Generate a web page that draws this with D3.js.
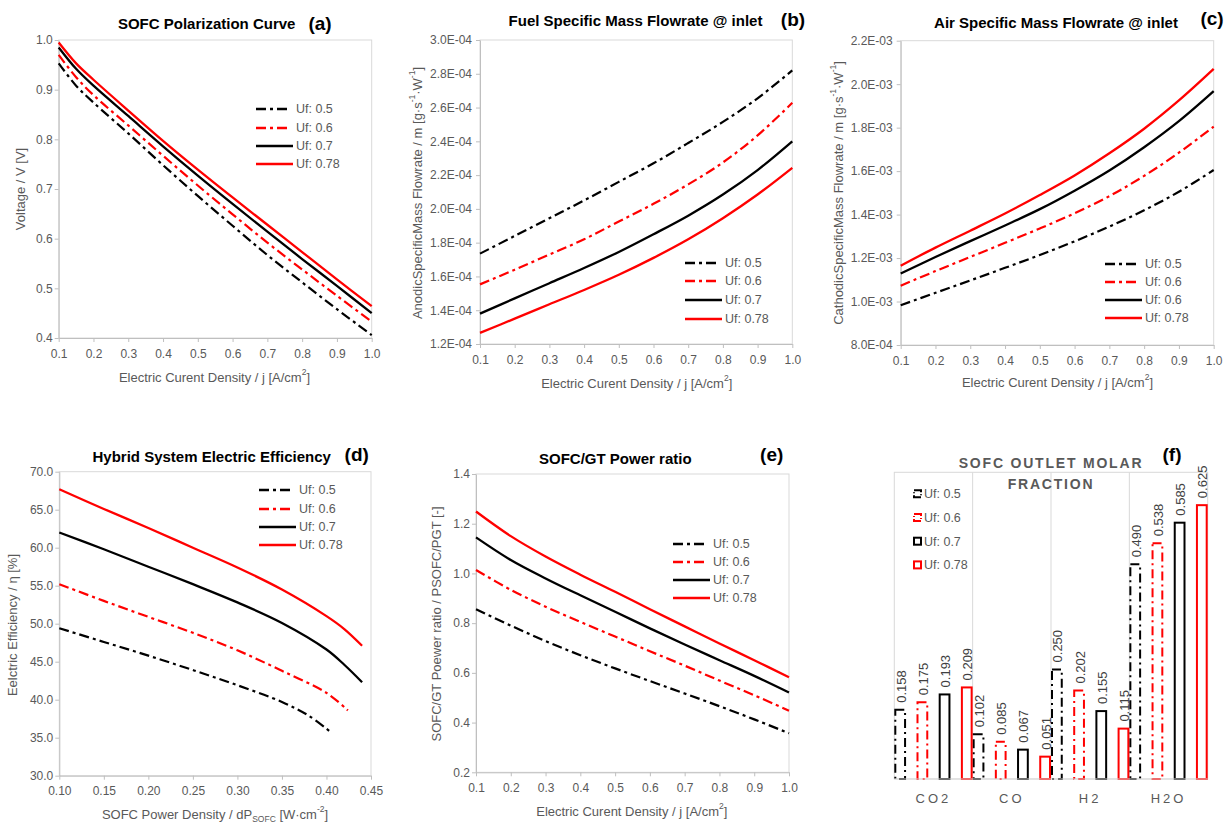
<!DOCTYPE html>
<html>
<head>
<meta charset="utf-8">
<script src="https://cdn.jsdelivr.net/npm/d3@7"></script>
<style>
  body { margin: 0; background: #fff; }
  svg { font-family: "Liberation Sans", Arial, sans-serif; }
  .tick text { fill: #595959; font-size: 12px; }
  .tick line, .domain { stroke: #bfbfbf; }
  .axis_title { fill: #595959; font-size: 13px; }
  .panel_title { font-weight: bold; font-size: 15px; fill: #000; }
  .panel_tag { font-weight: bold; font-size: 19px; fill: #000; }
  .legend_text { fill: #595959; font-size: 12.5px; }
</style>
</head>
<body>
<script>
// ---- data ----
const ufLabels = ['Uf: 0.5', 'Uf: 0.6', 'Uf: 0.7', 'Uf: 0.78'];
const ufLabelsC = ['Uf: 0.5', 'Uf: 0.6', 'Uf: 0.6', 'Uf: 0.78'];

// (a) polarization curve
const jPol = [0.1, 0.15, 0.2, 0.3, 0.4, 0.5, 0.6, 0.7, 0.8, 0.9, 1.0];
const voltUf05 = [0.953, 0.908, 0.874, 0.812, 0.748, 0.686, 0.626, 0.567, 0.512, 0.458, 0.406];
const voltUf06 = [0.970, 0.925, 0.889, 0.828, 0.767, 0.707, 0.649, 0.592, 0.538, 0.485, 0.433];
const voltUf07 = [0.985, 0.942, 0.908, 0.847, 0.786, 0.727, 0.670, 0.614, 0.559, 0.505, 0.450];
const voltUf078 = [0.995, 0.953, 0.920, 0.858, 0.797, 0.739, 0.683, 0.628, 0.573, 0.518, 0.464];

// (b), (c), (e) current density
const jVals = [0.1, 0.2, 0.3, 0.4, 0.5, 0.6, 0.7, 0.8, 0.9, 1.0];
const fuelUf05 = [1.735e-4, 1.84e-4, 1.945e-4, 2.05e-4, 2.16e-4, 2.27e-4, 2.39e-4, 2.515e-4, 2.655e-4, 2.82e-4];
const fuelUf06 = [1.553e-4, 1.64e-4, 1.73e-4, 1.82e-4, 1.925e-4, 2.03e-4, 2.145e-4, 2.275e-4, 2.435e-4, 2.628e-4];
const fuelUf07 = [1.38e-4, 1.47e-4, 1.56e-4, 1.65e-4, 1.745e-4, 1.85e-4, 1.96e-4, 2.085e-4, 2.23e-4, 2.40e-4];
const fuelUf078 = [1.266e-4, 1.35e-4, 1.435e-4, 1.52e-4, 1.61e-4, 1.71e-4, 1.82e-4, 1.945e-4, 2.085e-4, 2.243e-4];

const airUf05 = [0.983e-3, 1.04e-3, 1.097e-3, 1.155e-3, 1.214e-3, 1.277e-3, 1.345e-3, 1.42e-3, 1.505e-3, 1.605e-3];
const airUf06 = [1.073e-3, 1.14e-3, 1.205e-3, 1.27e-3, 1.336e-3, 1.406e-3, 1.485e-3, 1.578e-3, 1.685e-3, 1.805e-3];
const airUf07 = [1.129e-3, 1.205e-3, 1.278e-3, 1.35e-3, 1.425e-3, 1.51e-3, 1.603e-3, 1.71e-3, 1.83e-3, 1.968e-3];
const airUf078 = [1.165e-3, 1.248e-3, 1.326e-3, 1.405e-3, 1.49e-3, 1.58e-3, 1.682e-3, 1.795e-3, 1.925e-3, 2.07e-3];

const ratioUf05 = [0.856, 0.790, 0.728, 0.671, 0.618, 0.567, 0.517, 0.466, 0.413, 0.357];
const ratioUf06 = [1.014, 0.934, 0.866, 0.805, 0.746, 0.687, 0.629, 0.569, 0.510, 0.448];
const ratioUf07 = [1.145, 1.054, 0.980, 0.912, 0.846, 0.779, 0.714, 0.651, 0.588, 0.521];
const ratioUf078 = [1.249, 1.150, 1.068, 0.995, 0.926, 0.856, 0.787, 0.718, 0.651, 0.582];

// (d) efficiency vs SOFC power density (each series ends at its own power)
const powUf05 = [0.10, 0.15, 0.20, 0.25, 0.30, 0.35, 0.38, 0.403];
const effUf05 = [49.4, 47.6, 45.8, 43.9, 41.9, 39.7, 37.9, 35.9];
const powUf06 = [0.10, 0.15, 0.20, 0.25, 0.30, 0.35, 0.40, 0.424];
const effUf06 = [55.2, 53.0, 50.9, 48.8, 46.5, 43.8, 40.9, 38.6];
const powUf07 = [0.10, 0.15, 0.20, 0.25, 0.30, 0.35, 0.40, 0.42, 0.44];
const effUf07 = [62.0, 59.8, 57.5, 55.2, 52.8, 50.1, 46.6, 44.6, 42.3];
const powUf078 = [0.10, 0.15, 0.20, 0.25, 0.30, 0.35, 0.40, 0.42, 0.44];
const effUf078 = [67.7, 65.1, 62.6, 60.0, 57.4, 54.5, 51.0, 49.3, 47.1];

// (f) outlet molar fraction
const molarCats = ['CO2', 'CO', 'H2', 'H2O'];
const molarUf05 = [0.158, 0.102, 0.250, 0.490];
const molarUf06 = [0.175, 0.085, 0.202, 0.538];
const molarUf07 = [0.193, 0.067, 0.155, 0.585];
const molarUf078 = [0.209, 0.051, 0.115, 0.625];

// tick values
const jTicks = [0.1, 0.2, 0.3, 0.4, 0.5, 0.6, 0.7, 0.8, 0.9, 1.0];
const voltTicks = [0.4, 0.5, 0.6, 0.7, 0.8, 0.9, 1.0];
const fuelTicks = [1.2e-4, 1.4e-4, 1.6e-4, 1.8e-4, 2.0e-4, 2.2e-4, 2.4e-4, 2.6e-4, 2.8e-4, 3.0e-4];
const airTicks = [8.0e-4, 1.0e-3, 1.2e-3, 1.4e-3, 1.6e-3, 1.8e-3, 2.0e-3, 2.2e-3];
const powTicks = [0.10, 0.15, 0.20, 0.25, 0.30, 0.35, 0.40, 0.45];
const effTicks = [30, 35, 40, 45, 50, 55, 60, 65, 70];
const ratioTicks = [0.2, 0.4, 0.6, 0.8, 1.0, 1.2, 1.4];

// ---- styles ----
const ufStyles = [
	{color: '#000', dash: '10,4,3,4'},
	{color: '#ff0000', dash: '10,4,3,4'},
	{color: '#000', dash: null},
	{color: '#ff0000', dash: null}
];

function sci(d) {
	const [m, e] = d.toExponential(1).split('e');
	const n = +e;
	return m + 'E' + (n < 0 ? '-' : '+') + String(Math.abs(n)).padStart(2, '0');
}

const svg = d3.select('body').append('svg')
	.attr('width', 1226)
	.attr('height', 823);

// text with sub/superscript parts: [[str, 'sup'|'sub'|null], ...]
function richText(sel, parts) {
	parts.forEach(([s, mode]) => {
		const t = sel.append('tspan').text(s);
		if (mode === 'sup') t.attr('baseline-shift', 'super').attr('font-size', '8.5px');
		if (mode === 'sub') t.attr('baseline-shift', 'sub').attr('font-size', '8.5px');
	});
}

function linePanel(cfg) {
	const g = svg.append('g').attr('class', 'panel');
	const x = d3.scaleLinear().domain(cfg.xDom).range([cfg.x0, cfg.x1]);
	const y = d3.scaleLinear().domain(cfg.yDom).range([cfg.y0, cfg.y1]);

	g.append('rect')
		.attr('x', cfg.x0).attr('y', cfg.y1)
		.attr('width', cfg.x1 - cfg.x0).attr('height', cfg.y0 - cfg.y1)
		.style('fill', 'none').style('stroke', '#d9d9d9');

	g.append('g')
		.attr('transform', 'translate(0,' + cfg.y0 + ')')
		.call(d3.axisBottom(x).tickValues(cfg.xTicks).tickFormat(cfg.xFmt).tickSize(4).tickSizeOuter(0).tickPadding(7));

	g.append('g')
		.attr('transform', 'translate(' + cfg.x0 + ',0)')
		.call(d3.axisLeft(y).tickValues(cfg.yTicks).tickFormat(cfg.yFmt).tickSize(4).tickSizeOuter(0).tickPadding(cfg.yPad || 2));

	const line = d3.line()
		.x(d => x(d[0]))
		.y(d => y(d[1]))
		.curve(d3.curveCatmullRom.alpha(0.5));

	cfg.series.forEach((s, i) => {
		const pts = s.x.map((v, k) => [v, s.y[k]]);
		g.append('path')
			.datum(pts)
			.attr('class', 'series_line')
			.attr('d', line)
			.style('fill', 'none')
			.style('stroke', ufStyles[i].color)
			.style('stroke-width', ufStyles[i].dash ? 2.2 : 2.3)
			.style('stroke-dasharray', ufStyles[i].dash);
	});

	// legend
	const gLeg = g.append('g').attr('class', 'legend');
	cfg.legendLabels.forEach((lab, i) => {
		const ly = cfg.legend.y[i];
		gLeg.append('line')
			.attr('x1', cfg.legend.x)
			.attr('x2', cfg.legend.x + (ufStyles[i].dash ? 33 : 37))
			.attr('y1', ly).attr('y2', ly)
			.style('stroke', ufStyles[i].color)
			.style('stroke-width', 2.3)
			.style('stroke-dasharray', ufStyles[i].dash);
		gLeg.append('text')
			.attr('class', 'legend_text')
			.attr('x', cfg.legend.x + 40)
			.attr('y', ly)
			.attr('dominant-baseline', 'central')
			.text(lab);
	});

	g.append('text')
		.attr('class', 'panel_title')
		.attr('x', cfg.title.x).attr('y', cfg.title.y)
		.attr('text-anchor', 'middle')
		.text(cfg.title.text);
	g.append('text')
		.attr('class', 'panel_tag')
		.attr('x', cfg.tag.x).attr('y', cfg.tag.y)
		.attr('text-anchor', 'middle')
		.text(cfg.tag.text);

	const xt = g.append('text')
		.attr('class', 'axis_title')
		.attr('x', cfg.xLabel.x).attr('y', cfg.xLabel.y)
		.attr('text-anchor', 'middle')
		.attr('dominant-baseline', 'central');
	richText(xt, cfg.xLabel.parts);

	const yt = g.append('text')
		.attr('class', 'axis_title')
		.attr('transform', 'translate(' + cfg.yLabel.x + ',' + cfg.yLabel.y + ') rotate(-90)')
		.attr('text-anchor', 'middle')
		.attr('dominant-baseline', 'central');
	richText(yt, cfg.yLabel.parts);
}

const f1 = d3.format('.1f');
const jLabel = [['Electric Curent Density / j [A/cm', null], ['2', 'sup'], [']', null]];
const massUnit = [['[g·s', null], ['-1', 'sup'], ['·W', null], ['-1', 'sup'], [']', null]];

// (a)
linePanel({
	x0: 58.7, x1: 371.7, y0: 338, y1: 40,
	xDom: [0.1, 1.0], yDom: [0.4, 1.0],
	xTicks: jTicks, yTicks: voltTicks, xFmt: f1, yFmt: f1,
	series: [
		{x: jPol, y: voltUf05}, {x: jPol, y: voltUf06},
		{x: jPol, y: voltUf07}, {x: jPol, y: voltUf078}
	],
	legendLabels: ufLabels,
	legend: {x: 256, y: [109, 128, 146, 164]},
	title: {text: 'SOFC Polarization Curve', x: 206.7, y: 29},
	tag: {text: '(a)', x: 320, y: 30},
	xLabel: {x: 214.5, y: 377, parts: jLabel},
	yLabel: {x: 20, y: 189, parts: [['Voltage / V [V]', null]]}
});

// (b)
linePanel({
	x0: 480, x1: 792.3, y0: 344, y1: 40,
	xDom: [0.1, 1.0], yDom: [1.2e-4, 3.0e-4],
	xTicks: jTicks, yTicks: fuelTicks, xFmt: f1, yFmt: sci, yPad: 4,
	series: [
		{x: jVals, y: fuelUf05}, {x: jVals, y: fuelUf06},
		{x: jVals, y: fuelUf07}, {x: jVals, y: fuelUf078}
	],
	legendLabels: ufLabels,
	legend: {x: 685, y: [263, 281, 300, 319]},
	title: {text: 'Fuel Specific Mass Flowrate @ inlet', x: 635.5, y: 26},
	tag: {text: '(b)', x: 793, y: 26},
	xLabel: {x: 636.7, y: 383, parts: jLabel},
	yLabel: {x: 416.7, y: 193, parts: [['AnodicSpecificMass Flowrate / m ', null]].concat(massUnit)}
});

// (c)
linePanel({
	x0: 900.7, x1: 1213.7, y0: 345, y1: 40.7,
	xDom: [0.1, 1.0], yDom: [8.0e-4, 2.2e-3],
	xTicks: jTicks, yTicks: airTicks, xFmt: f1, yFmt: sci, yPad: 4,
	series: [
		{x: jVals, y: airUf05}, {x: jVals, y: airUf06},
		{x: jVals, y: airUf07}, {x: jVals, y: airUf078}
	],
	legendLabels: ufLabelsC,
	legend: {x: 1105, y: [264, 282, 300, 318]},
	title: {text: 'Air Specific Mass Flowrate @ inlet', x: 1056, y: 28},
	tag: {text: '(c)', x: 1212, y: 25},
	xLabel: {x: 1057.5, y: 382, parts: jLabel},
	yLabel: {x: 838, y: 193, parts: [['CathodicSpecificMass Flowrate / m ', null]].concat(massUnit)}
});

// (d)
linePanel({
	x0: 59.3, x1: 371, y0: 775.7, y1: 471.7,
	xDom: [0.10, 0.45], yDom: [30, 70],
	xTicks: powTicks, yTicks: effTicks, xFmt: d3.format('.2f'), yFmt: f1,
	series: [
		{x: powUf05, y: effUf05}, {x: powUf06, y: effUf06},
		{x: powUf07, y: effUf07}, {x: powUf078, y: effUf078}
	],
	legendLabels: ufLabels,
	legend: {x: 259, y: [490, 509, 527, 545]},
	title: {text: 'Hybrid System Electric Efficiency', x: 211.7, y: 462},
	tag: {text: '(d)', x: 356.7, y: 461},
	xLabel: {x: 215, y: 814, parts: [['SOFC Power  Density / dP', null], ['SOFC', 'sub'], [' [W·cm', null], ['-2', 'sup'], [']', null]]},
	yLabel: {x: 11.7, y: 625, parts: [['Eelctric Efficiency / η [%]', null]]}
});

// (e)
linePanel({
	x0: 476, x1: 789, y0: 772.3, y1: 474,
	xDom: [0.1, 1.0], yDom: [0.2, 1.4],
	xTicks: jTicks, yTicks: ratioTicks, xFmt: f1, yFmt: f1,
	series: [
		{x: jVals, y: ratioUf05}, {x: jVals, y: ratioUf06},
		{x: jVals, y: ratioUf07}, {x: jVals, y: ratioUf078}
	],
	legendLabels: ufLabels,
	legend: {x: 673, y: [544, 562, 580, 598]},
	title: {text: 'SOFC/GT Power ratio', x: 615.3, y: 464},
	tag: {text: '(e)', x: 771.7, y: 461},
	xLabel: {x: 631.8, y: 811, parts: jLabel},
	yLabel: {x: 435.7, y: 624, parts: [['SOFC/GT Poewer  ratio / PSOFC/PGT [-]', null]]}
});

// (f) bar chart
(function molarPanel() {
	const x0 = 894.3, x1 = 1207.7, y0 = 779, y1 = 472.3;
	const g = svg.append('g').attr('class', 'panel_f');
	const xCat = d3.scaleBand().domain(molarCats).range([x0, x1]).padding(0);
	const xSub = d3.scaleBand().domain([0, 1, 2, 3]).range([0, xCat.bandwidth()]).paddingInner(0.47).paddingOuter(0);
	const y = d3.scaleLinear().domain([0, 0.7]).range([y0, y1]);
	const series = [molarUf05, molarUf06, molarUf07, molarUf078];
	const barDash = '9,4,2,4';

	g.append('rect')
		.attr('x', x0).attr('y', y1)
		.attr('width', x1 - x0).attr('height', y0 - y1)
		.style('fill', 'none').style('stroke', '#d9d9d9');

	g.selectAll('.cat_grid')
		.data(molarCats.slice(1)).enter()
		.append('line')
		.attr('class', 'cat_grid')
		.attr('x1', d => xCat(d)).attr('x2', d => xCat(d))
		.attr('y1', y1).attr('y2', y0)
		.style('stroke', '#d9d9d9');

	const bars = [];
	series.forEach((vals, si) => {
		vals.forEach((v, ci) => bars.push({si, cat: molarCats[ci], v}));
	});

	g.selectAll('.molar_bar')
		.data(bars).enter()
		.append('rect')
		.attr('class', 'molar_bar')
		.attr('x', d => xCat(d.cat) + xSub(d.si) + 1)
		.attr('y', d => y(d.v))
		.attr('width', xSub.bandwidth() - 2)
		.attr('height', d => y0 - y(d.v))
		.style('fill', 'none')
		.style('stroke', d => ufStyles[d.si].color)
		.style('stroke-width', 2)
		.style('stroke-dasharray', d => ufStyles[d.si].dash ? barDash : null);

	g.selectAll('.molar_label')
		.data(bars).enter()
		.append('text')
		.attr('class', 'molar_label')
		.attr('transform', d => 'translate(' + (xCat(d.cat) + xSub(d.si) + xSub.bandwidth() / 2 + 1) + ',' + (y(d.v) - 7) + ') rotate(-90)')
		.attr('dominant-baseline', 'central')
		.style('font-size', '13px')
		.style('fill', '#404040')
		.text(d => d3.format('.3f')(d.v));

	g.append('line')
		.attr('x1', x0).attr('x2', x1)
		.attr('y1', y0).attr('y2', y0)
		.style('stroke', '#d9d9d9');

	g.selectAll('.cat_label')
		.data(molarCats).enter()
		.append('text')
		.attr('class', 'cat_label')
		.attr('x', d => xCat(d) + xCat.bandwidth() / 2)
		.attr('y', 798)
		.attr('text-anchor', 'middle')
		.attr('dominant-baseline', 'central')
		.style('font-size', '13px')
		.style('letter-spacing', '3px')
		.style('fill', '#595959')
		.text(d => d);

	['SOFC OUTLET MOLAR', 'FRACTION'].forEach((t, i) => {
		g.append('text')
			.attr('x', (x0 + x1) / 2)
			.attr('y', 463 + i * 20.6)
			.attr('text-anchor', 'middle')
			.attr('dominant-baseline', 'central')
			.style('font-size', '14px')
			.style('font-weight', 'bold')
			.style('letter-spacing', '1.8px')
			.style('fill', '#595959')
			.text(t);
	});

	g.append('text')
		.attr('class', 'panel_tag')
		.attr('x', 1172).attr('y', 461)
		.attr('text-anchor', 'middle')
		.text('(f)');

	// legend
	ufLabels.forEach((lab, i) => {
		const ly = 494.3 + i * 23.7;
		g.append('rect')
			.attr('x', 914).attr('y', ly - 4)
			.attr('width', 7).attr('height', 7)
			.style('fill', 'none')
			.style('stroke', ufStyles[i].color)
			.style('stroke-width', 2)
			.style('stroke-dasharray', ufStyles[i].dash ? '9,2,1,2' : null);
		g.append('text')
			.attr('class', 'legend_text')
			.attr('x', 924).attr('y', ly)
			.attr('dominant-baseline', 'central')
			.text(lab);
	});
})();
</script>
</body>
</html>
